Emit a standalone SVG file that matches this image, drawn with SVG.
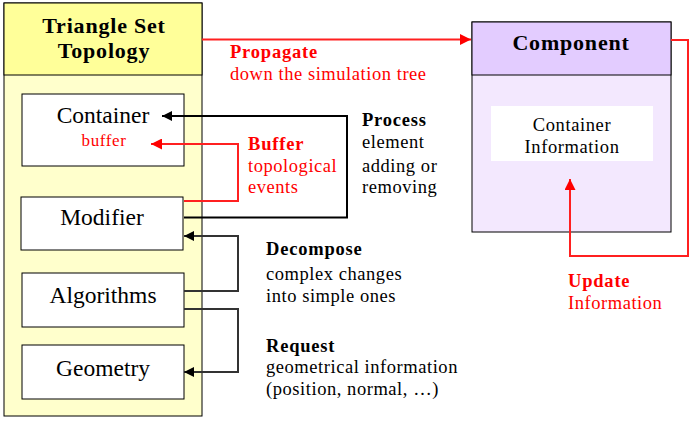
<svg xmlns="http://www.w3.org/2000/svg" width="692" height="421" viewBox="0 0 692 421" font-family="Liberation Serif, DejaVu Serif, serif">
<defs>
<marker id="ab" viewBox="0 0 10 10" refX="10" refY="5" markerWidth="10" markerHeight="10" markerUnits="userSpaceOnUse" orient="auto"><path d="M0,0 L10,5 L0,10 z" fill="#000"/></marker>
<marker id="ar" viewBox="0 0 10 10" refX="10" refY="5" markerWidth="11" markerHeight="11" markerUnits="userSpaceOnUse" orient="auto"><path d="M0,0 L10,5 L0,10 z" fill="#FF0000"/></marker>
</defs>
<style>
.box{fill:#fff;stroke:#000;stroke-width:1}
.lbl{font-size:23.5px;text-anchor:middle}
.ttl{font-size:22px;font-weight:bold;letter-spacing:0.8px;text-anchor:middle}
.t{font-size:18.5px;letter-spacing:0.55px}
.b{font-weight:bold;letter-spacing:0.8px}
.red{fill:#FF0000}
.cb{fill:none;stroke:#000;stroke-width:2}
.cg{fill:none;stroke:#333;stroke-width:2}
.cr{fill:none;stroke:#FF2020;stroke-width:2}
</style>
<rect width="692" height="421" fill="#fff"/>
<g id="triangle-set-topology">
<rect x="4" y="3" width="198" height="413" fill="#FFFFCC" stroke="#000"/>
<rect x="4" y="3" width="198" height="72" fill="#FFFF99" stroke="#000"/>
<text x="104" y="33" class="ttl">Triangle Set</text>
<text x="104" y="58" class="ttl">Topology</text>
</g>
<g id="container">
<rect x="22" y="94" width="162" height="72" class="box"/>
<text x="103" y="123" class="lbl">Container</text>
<text x="104" y="146" font-size="17" letter-spacing="0.6" text-anchor="middle" class="red">buffer</text>
</g>
<g id="modifier">
<rect x="21" y="197" width="162" height="53" class="box"/>
<text x="102" y="225" class="lbl">Modifier</text>
</g>
<g id="algorithms">
<rect x="22" y="273" width="162" height="54" class="box"/>
<text x="103" y="303" class="lbl">Algorithms</text>
</g>
<g id="geometry">
<rect x="22" y="345" width="162" height="54" class="box"/>
<text x="103" y="376" class="lbl">Geometry</text>
</g>
<g id="component">
<rect x="472" y="22" width="199" height="210" fill="#F3E8FE" stroke="#000"/>
<rect x="472" y="22" width="199" height="53" fill="#E3CCFF" stroke="#000"/>
<text x="571" y="50" class="ttl">Component</text>
<rect x="491" y="106" width="162" height="55" fill="#fff"/>
<text x="572" y="131" font-size="18.5" letter-spacing="0.6" text-anchor="middle">Container</text>
<text x="572" y="153" font-size="18.5" letter-spacing="0.6" text-anchor="middle">Information</text>
</g>
<g id="connectors">
<path d="M202,39.5 H471" class="cr" marker-end="url(#ar)"/>
<path d="M671,40 H688 V256 H570 V179" class="cr" marker-end="url(#ar)"/>
<path d="M184,201 H238 V144 H151" class="cr" marker-end="url(#ar)"/>
<path d="M184,217.5 H347 V116 H162" class="cb" marker-end="url(#ab)"/>
<path d="M184,291 H238 V236 H184" class="cg" marker-end="url(#ab)"/>
<path d="M184,309 H238 V372 H184" class="cg" marker-end="url(#ab)"/>
</g>
<g id="labels">
<text x="230" y="58" class="t b red">Propagate</text>
<text x="230" y="80" class="t red">down the simulation tree</text>
<text x="248" y="150" class="t b red">Buffer</text>
<text x="248" y="172" class="t red">topological</text>
<text x="248" y="193" class="t red">events</text>
<text x="362" y="126" class="t b">Process</text>
<text x="362" y="148" class="t">element</text>
<text x="362" y="172" class="t">adding or</text>
<text x="362" y="193" class="t">removing</text>
<text x="266" y="255" class="t b">Decompose</text>
<text x="266" y="280" class="t">complex changes</text>
<text x="266" y="302" class="t">into simple ones</text>
<text x="266" y="352" class="t b">Request</text>
<text x="266" y="373" class="t">geometrical information</text>
<text x="266" y="395" class="t">(position, normal, …)</text>
<text x="568" y="287" class="t b red">Update</text>
<text x="568" y="309" class="t red">Information</text>
</g>
</svg>
